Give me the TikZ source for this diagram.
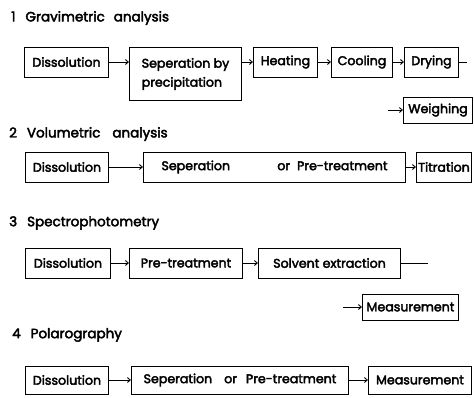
\documentclass[tikz,border=0pt]{standalone}
\usepackage{fontspec}
\setmainfont{Poppins}
\newfontfamily\boxfont{Poppins}[RawFeature={embolden=3}]
\usetikzlibrary{arrows.meta,positioning}

\tikzset{
  stepbox/.style={draw, line width=1pt, inner sep=0pt, anchor=west,
    minimum height=30pt, font=\boxfont\fontsize{12.6}{19}\selectfont},
  smallbox/.style={stepbox, minimum height=26pt},
  flow/.style={line width=0.9pt, -{Straight Barb[length=3pt,width=5pt]}},
  heading/.style={anchor=west, inner sep=0pt, font=\boxfont\fontsize{13.5}{16}\selectfont}
}

\begin{document}
\begin{tikzpicture}[x=1pt,y=-1pt]
  \useasboundingbox (0,0) rectangle (474,397);

  % 1 gravimetric analysis
  \node[heading] (h1) at (11,18) {1\hspace{10pt}Gravimetric\hspace{9pt}analysis};
  \node[stepbox, minimum width=84pt] (g1) at (24,62) {Dissolution};
  \node[stepbox, minimum width=112pt, minimum height=53pt, anchor=north west,
    align=left, inner sep=3pt] (g2) at (129,47) {Seperation by\\precipitation};
  \node[stepbox, minimum width=64pt] (g3) at (253,62) {Heating};
  \node[stepbox, minimum width=61pt] (g4) at (331,62) {Cooling};
  \node[stepbox, minimum width=54pt] (g5) at (404,62) {Drying};
  \node[smallbox, minimum width=69pt] (g6) at (403,110) {Weighing};
  \coordinate (g5end) at (467,62);
  \coordinate (g6start) at (388,110);
  \draw[flow] (g1.east) -- (g1.east -| g2.west);
  \draw[flow] (g1.east -| g2.east) -- (g3.west);
  \draw[flow] (g3.east) -- (g4.west);
  \draw[flow] (g4.east) -- (g5.west);
  \draw[line width=0.9pt] (g5.east) -- (g5end);
  \draw[flow] (g6start) -- (g6.west);

  % 2 volumetric analysis
  \node[heading] (h2) at (9,134) {2\hspace{10pt}Volumetric\hspace{12pt}analysis};
  \node[stepbox, minimum width=83pt] (v1) at (25,167) {Dissolution};
  \node[stepbox, minimum width=262pt, text width=226pt, inner xsep=18pt] (v2) at (143,167)
    {Seperation\hspace{0pt plus 1fill}or\hspace{7pt}Pre-treatment};
  \node[stepbox, minimum width=55pt] (v3) at (416,167) {Titration};
  \draw[flow] (v1) -- (v2);
  \draw[flow] (v2) -- (v3);

  % 3 spectrophotometry
  \node[heading] (h3) at (9,223) {3\hspace{10pt}Spectrophotometry};
  \node[stepbox, minimum width=85pt] (s1) at (25,263) {Dissolution};
  \node[stepbox, minimum width=113pt] (s2) at (129,263) {Pre-treatment};
  \node[stepbox, minimum width=142pt] (s3) at (258,263) {Solvent extraction};
  \node[smallbox, minimum width=96pt] (s4) at (362,307) {Measurement};
  \coordinate (s3end) at (428,263);
  \coordinate (s4start) at (343,307);
  \draw[flow] (s1) -- (s2);
  \draw[flow] (s2) -- (s3);
  \draw[line width=0.9pt] (s3.east) -- (s3end);
  \draw[flow] (s4start) -- (s4.west);

  % 4 polarography
  \node[heading] (h4) at (12,335) {4\hspace{10pt}Polarography};
  \node[stepbox, minimum width=83pt, minimum height=28pt] (p1) at (25,380) {Dissolution};
  \node[stepbox, minimum width=217pt, minimum height=28pt] (p2) at (131,380) {Seperation\hspace{12pt}or\hspace{9pt}Pre-treatment};
  \node[stepbox, minimum width=103pt, minimum height=28pt] (p3) at (368,380) {Measurement};
  \draw[flow] (p1) -- (p2);
  \draw[flow] (p2) -- (p3);

\end{tikzpicture}
\end{document}
